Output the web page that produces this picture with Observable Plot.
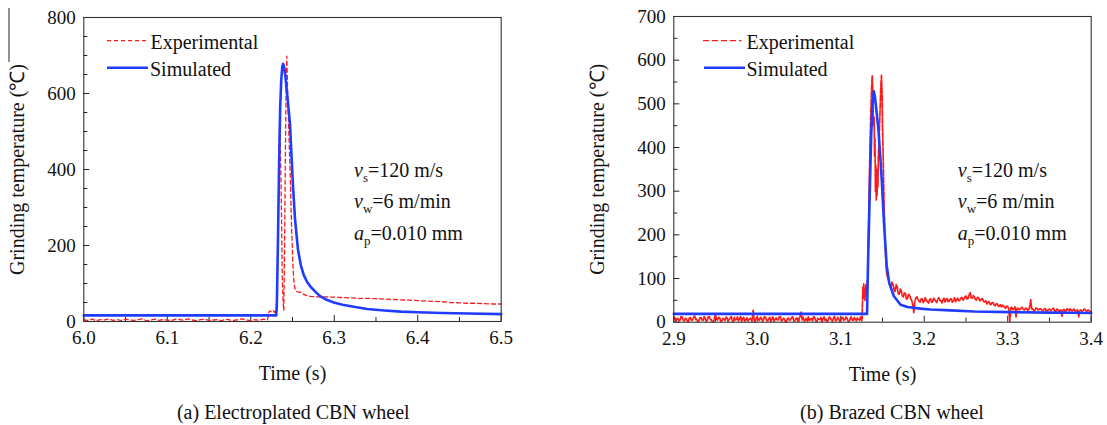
<!DOCTYPE html>
<html>
<head>
<meta charset="utf-8">
<script src="https://cdn.jsdelivr.net/npm/d3@7"></script>
<script src="https://cdn.jsdelivr.net/npm/@observablehq/plot@0.6"></script>
<style>
  html, body { margin: 0; padding: 0; background: #fff; }
  #page { position: relative; width: 1107px; height: 425px; overflow: hidden; background: #fff;
          font-family: "Liberation Serif", "Times New Roman", serif; color: #111; }
  .panel { position: absolute; top: 0; }
  .caption { position: absolute; font-size: 20px; white-space: nowrap; transform: translate(-50%, -50%); }
  .legtext { position: absolute; font-size: 20px; white-space: nowrap; transform: translateY(-50%); }
  .annot { position: absolute; font-size: 20px; line-height: 28.3px; white-space: nowrap; }
  .annot i { font-style: italic; }
  .annot .sub { font-size: 13px; position: relative; top: 5px; }
</style>
</head>
<body>
<div id="page">
  <div id="left" class="panel" style="left:0px"></div>
  <div id="right" class="panel" style="left:560px"></div>
  <svg id="legendLines" width="1107" height="425" style="position:absolute;left:0;top:0;pointer-events:none"></svg>
</div>
<script>
// ---------------- Data ----------------
// Panel (a) Electroplated CBN wheel
const xDomainA = [6.0, 6.5];
const yDomainA = [0, 800];
const xTicksA = [6.0, 6.1, 6.2, 6.3, 6.4, 6.5];
const xMinorA = [6.05, 6.15, 6.25, 6.35, 6.45];
const yTicksA = [0, 200, 400, 600, 800];
const yMinorA = [50, 100, 150, 250, 300, 350, 450, 500, 550, 650, 700, 750];

// simulated (blue)
const simTimeA = [6.0, 6.2305, 6.2312, 6.2325, 6.234, 6.2352, 6.2365, 6.2378, 6.2388, 6.2400, 6.2415, 6.2435, 6.2455, 6.2470, 6.2485, 6.2505, 6.253, 6.2565, 6.2600, 6.2635, 6.2675, 6.2715, 6.2775, 6.2835, 6.290, 6.2995, 6.310, 6.325, 6.3395, 6.360, 6.380, 6.3995, 6.430, 6.460, 6.500];
const simTempA = [16, 16, 40, 200, 420, 560, 635, 670, 678, 670, 645, 600, 555, 520, 450, 360, 270, 190, 148, 122, 104, 92, 78, 66, 58, 50, 44, 38, 33, 29, 26, 24.5, 22.5, 21, 19.5];

// experimental (red, dashed): baseline sampled every 0.005 s from 6.000 to 6.220
const expBaseStartA = 6.0;
const expBaseStepA = 0.005;
const expBaseA = [4, 3, 6, 2, 5, 4, 7, 3, 5, 2, 6, 4, 3, 5, 7, 2, 4, 6, 3, 5, 4, 2, 6, 5, 3, 7, 4, 2, 5, 6, 3, 4, 5, 2, 6, 4, 3, 5, 7, 4, 2, 5, 3, 6, 4];
// experimental: rise, double peak and tail
const expTimeA = [6.2216, 6.2225, 6.2250, 6.2270, 6.2285, 6.2300, 6.2315, 6.2330, 6.2345, 6.2352, 6.2362, 6.2370, 6.2378, 6.2388, 6.2396, 6.2405, 6.2415, 6.2425, 6.2432, 6.2440, 6.2460, 6.2476, 6.2490, 6.2505, 6.2516, 6.2530, 6.2545, 6.2560, 6.2596, 6.2630, 6.2675, 6.2715, 6.2800, 6.2900, 6.2995, 6.3100, 6.3200, 6.3300, 6.3400, 6.3500, 6.3600, 6.3700, 6.3790, 6.3900, 6.4000, 6.4100, 6.4200, 6.4300, 6.4390, 6.4500, 6.4600, 6.4700, 6.4800, 6.4900, 6.5000];
const expTempA = [22, 28, 25, 29, 24, 28, 60, 300, 520, 480, 380, 250, 110, 50, 29, 200, 450, 640, 698, 620, 470, 362, 240, 150, 108, 85, 80, 78, 77, 72, 68, 66, 65, 65, 64, 63, 62, 61, 61, 60, 59, 58, 57, 56, 55, 54, 53, 52, 50, 49, 48, 48, 47, 46, 46];

// Panel (b) Brazed CBN wheel
const xDomainB = [2.9, 3.4];
const yDomainB = [0, 700];
const xTicksB = [2.9, 3.0, 3.1, 3.2, 3.3, 3.4];
const xMinorB = [2.95, 3.05, 3.15, 3.25, 3.35];
const yTicksB = [0, 100, 200, 300, 400, 500, 600, 700];
const yMinorB = [50, 150, 250, 350, 450, 550, 650];

const simTimeB = [2.9, 3.1315, 3.1325, 3.1344, 3.1364, 3.1380, 3.1396, 3.1410, 3.1430, 3.1452, 3.1490, 3.1520, 3.1550, 3.1580, 3.1635, 3.1716, 3.1800, 3.1955, 3.2075, 3.2314, 3.2600, 3.3033, 3.3500, 3.3750, 3.4];
const simTempB = [19, 19, 120, 271, 424, 500, 529, 515, 480, 440, 330, 220, 130, 90, 60, 40, 35, 31, 29, 27, 24.5, 23, 22, 21.5, 21];

// experimental baseline sampled every 0.00125 s from 2.900 to 3.125
const expBaseStartB = 2.9;
const expBaseStepB = 0.00125;
const expBaseB = [
  6, 11, 2, 8, 9, 3, 4, 13, 12, 5, 3, 9, 8, 2, 1, 11, 10, 4, 5, 12,
  14, 6, 7, 1, 2, 10, 11, 5, 4, 13, 9, 2, 3, 12, 13, 6, 6, 1, 1, 9,
  18, 7, 5, 12, 10, 2, 3, 9, 7, 4, 12, 10, 2, 6, 9, 13, 4, 1, 11, 5,
  6, 12, 3, 8, 14, 2, 8, 11, 2, 5, 10, 3, 5, 9, 7, 2, 27, 4, 1, 10,
  12, 6, 4, 11, 9, 2, 6, 13, 11, 4, 3, 9, 11, 1, 7, 12, 2, 6, 10, 5,
  5, 12, 13, 3, 4, 9, 8, 1, 1, 10, 9, 4, 6, 12, 12, 3, 3, 8, 10, 2,
  7, 13, 23, 5, 11, 2, 5, 9, 2, 12, 4, 7, 8, 3, 13, 10, 3, 1, 9, 6,
  6, 11, 1, 8, 12, 4, 7, 2, 4, 12, 10, 5, 2, 9, 14, 3, 5, 11, 8, 2,
  3, 10, 11, 4, 6, 12, 9, 2, 2, 8, 12, 5, 4, 11, 7, 3, 10, 6, 5, 12, 3];
// experimental: pre-rise jump and double peak
const expTimeB = [3.1255, 3.1260, 3.1265, 3.1270, 3.1275, 3.1280, 3.1285, 3.1290, 3.1295, 3.1300, 3.1305, 3.1310, 3.1315, 3.1325, 3.1330, 3.1340, 3.1350, 3.1360, 3.1370, 3.1377, 3.1385, 3.1390, 3.1400, 3.1405, 3.1410, 3.1415, 3.1420, 3.1425, 3.1430, 3.1435, 3.1440, 3.1445, 3.1450, 3.1460, 3.1470, 3.1480, 3.1488, 3.1495, 3.1500, 3.1510, 3.1520, 3.1530, 3.1540, 3.1550];
const expTempB = [8, 45, 80, 55, 88, 60, 75, 50, 70, 85, 60, 72, 90, 100, 180, 300, 400, 480, 540, 565, 520, 450, 470, 380, 420, 300, 360, 280, 330, 290, 350, 310, 380, 420, 480, 540, 565, 520, 450, 360, 260, 190, 140, 110];
// experimental tail sampled every 0.00125 s from 3.1575 to 3.400
const expTailStartB = 3.1575;
const expTailStepB = 0.00125;
const expTailB = [
  95, 84, 78, 92, 88, 74, 70, 86, 82, 66, 64, 76,
  72, 60, 58, 68, 66, 52, 55, 64, 62, 54, 50, 40, 22, 48, 56, 58,
  52, 49, 46, 53, 55, 45, 48, 56, 50, 47, 44, 51, 54, 46, 47, 55, 52, 48, 45, 53, 56, 50,
  49, 44, 51, 55, 46, 52, 55, 47, 48, 54, 53, 46, 50, 56, 47, 51, 55, 49,
  50, 55, 57, 51, 52, 58, 60, 53, 54, 62, 68, 56, 55, 61, 58, 52, 51, 57, 56, 50, 49, 54, 53, 47,
  46, 49, 42, 45, 48, 41, 40, 46, 44, 39, 38, 43, 42, 37, 36, 40,
  35, 39, 38, 33, 32, 37, 36, 30, 2, 33, 34, 29, 30, 35, 12, 31, 33, 28,
  30, 33, 34, 29, 28, 32, 32, 27, 29, 34, 52, 30, 31, 26, 27, 32, 33, 28, 29, 31, 30, 26,
  27, 30, 31, 25, 26, 29, 30, 27, 28, 31, 32, 26, 25, 30, 29, 24, 27, 29, 13, 28, 30, 25, 26, 31,
  28, 26, 31, 27, 25, 30, 29, 24, 27, 28, 12, 27, 28, 25, 26, 29, 30, 26, 25, 28, 27, 23, 24];

// ---------------- Helpers ----------------
const RED = "#ff1a1a";
const BLUE = "#1f3cff";
const FONT = "'Liberation Serif', 'Times New Roman', serif";

function sampled(start, step, values) {
  return values.map((v, i) => ({t: +(start + i * step).toFixed(6), v}));
}
function paired(times, values) {
  return times.map((t, i) => ({t, v: values[i]}));
}

function panel(o) {
  return Plot.plot({
    width: o.width, height: 390,
    marginLeft: o.ml, marginRight: o.mr, marginTop: o.mt, marginBottom: 390 - o.yb,
    x: {domain: o.xDomain},
    y: {domain: o.yDomain},
    style: {fontFamily: FONT, color: "#111", background: "transparent", overflow: "visible"},
    marks: [
      // inward ticks
      Plot.ruleX(o.xTicks, {x: d => d, y1: o.yDomain[0], y2: o.yDomain[0], insetBottom: 6, stroke: "#222", strokeWidth: 1}),
      Plot.ruleX(o.xMinor, {x: d => d, y1: o.yDomain[0], y2: o.yDomain[0], insetBottom: 4, stroke: "#222", strokeWidth: 1}),
      Plot.ruleY(o.yTicks, {y: d => d, x1: o.xDomain[0], x2: o.xDomain[0], insetRight: -6, stroke: "#222", strokeWidth: 1}),
      Plot.ruleY(o.yMinor, {y: d => d, x1: o.xDomain[0], x2: o.xDomain[0], insetRight: -4, stroke: "#222", strokeWidth: 1}),
      Plot.axisX({ticks: o.xTicks, tickFormat: d3.format(".1f"), tickSize: 0, tickPadding: 9, fontSize: 19, label: null}),
      Plot.axisY({ticks: o.yTicks, tickFormat: d => String(d), tickSize: 0, tickPadding: 8, fontSize: 19, label: null}),
      Plot.text(["Time (s)"], {frameAnchor: "bottom", lineAnchor: "middle", textAnchor: "middle", dy: 52, fontSize: 20, fill: "#111"}),
      Plot.text(["Grinding temperature (\u2103)"], {frameAnchor: "left", textAnchor: "middle", lineAnchor: "middle", rotate: -90, dx: o.ylabelDx, fontSize: 20, fill: "#111"}),
      Plot.line(o.exp, {x: "t", y: "v", stroke: RED, strokeWidth: o.expWidth, strokeDasharray: o.dash}),
      Plot.line(o.sim, {x: "t", y: "v", stroke: BLUE, strokeWidth: 2.6}),
      Plot.frame({stroke: "#333", strokeWidth: 1.1})
    ]
  });
}

const expA = [...sampled(expBaseStartA, expBaseStepA, expBaseA), ...paired(expTimeA, expTempA)];
const simA = paired(simTimeA, simTempA);
const expB = [...sampled(expBaseStartB, expBaseStepB, expBaseB), ...paired(expTimeB, expTempB), ...sampled(expTailStartB, expTailStepB, expTailB)];
const simB = paired(simTimeB, simTempB);

document.getElementById("left").append(panel({
  width: 550, ml: 83.3, mr: 550 - 500.7, mt: 17, yb: 321,
  xDomain: xDomainA, yDomain: yDomainA, xTicks: xTicksA, xMinor: xMinorA, yTicks: yTicksA, yMinor: yMinorA,
  exp: expA, sim: simA, dash: "4,3", expWidth: 1.3, ylabelDx: -66
}));
document.getElementById("right").append(panel({
  width: 547, ml: 113.3, mr: 547 - 530.7, mt: 16, yb: 321.7,
  xDomain: xDomainB, yDomain: yDomainB, xTicks: xTicksB, xMinor: xMinorB, yTicks: yTicksB, yMinor: yMinorB,
  exp: expB, sim: simB, dash: "6,1.5", expWidth: 1.7, ylabelDx: -76.5
}));

// ---------------- Legends, annotations, captions (HTML overlays) ----------------
const page = document.getElementById("page");
const legendSvg = d3.select("#legendLines");
const legends = [
  {x1: 107, x2: 147, y: 40.7, stroke: RED, w: 1.2, dash: "4,3", text: "Experimental", tx: 150.5},
  {x1: 107, x2: 148, y: 67.7, stroke: BLUE, w: 2.6, dash: null, text: "Simulated", tx: 150},
  {x1: 703, x2: 741.5, y: 40.7, stroke: RED, w: 1.3, dash: "6,3", text: "Experimental", tx: 746.5},
  {x1: 704, x2: 745, y: 67.7, stroke: BLUE, w: 2.6, dash: null, text: "Simulated", tx: 746.5}
];
legends.forEach(l => {
  legendSvg.append("line").attr("x1", l.x1).attr("x2", l.x2).attr("y1", l.y).attr("y2", l.y)
    .attr("stroke", l.stroke).attr("stroke-width", l.w).attr("stroke-dasharray", l.dash);
  const d = document.createElement("div");
  d.className = "legtext";
  d.style.left = l.tx + "px";
  d.style.top = (l.y + 1) + "px";
  d.textContent = l.text;
  page.append(d);
});
// odd vertical rule at top-left of the original figure
legendSvg.append("line").attr("x1", 9).attr("x2", 9).attr("y1", 8).attr("y2", 62).attr("stroke", "#222").attr("stroke-width", 1);

const annotHTML = '<i>v</i><span class="sub">s</span>=120 m/s<br>' +
                  '<i>v</i><span class="sub">w</span>=6 m/min<br>' +
                  '<i>a</i><span class="sub">p</span>=0.010 mm';
[354, 957.8].forEach(x => {
  const d = document.createElement("div");
  d.className = "annot";
  d.style.left = x + "px";
  d.style.top = "156px";
  d.innerHTML = annotHTML;
  page.append(d);
});

[{x: 293.3, text: "(a) Electroplated CBN wheel"}, {x: 892, text: "(b) Brazed CBN wheel"}].forEach(c => {
  const d = document.createElement("div");
  d.className = "caption";
  d.style.left = c.x + "px";
  d.style.top = "411.5px";
  d.textContent = c.text;
  page.append(d);
});
</script>
</body>
</html>
